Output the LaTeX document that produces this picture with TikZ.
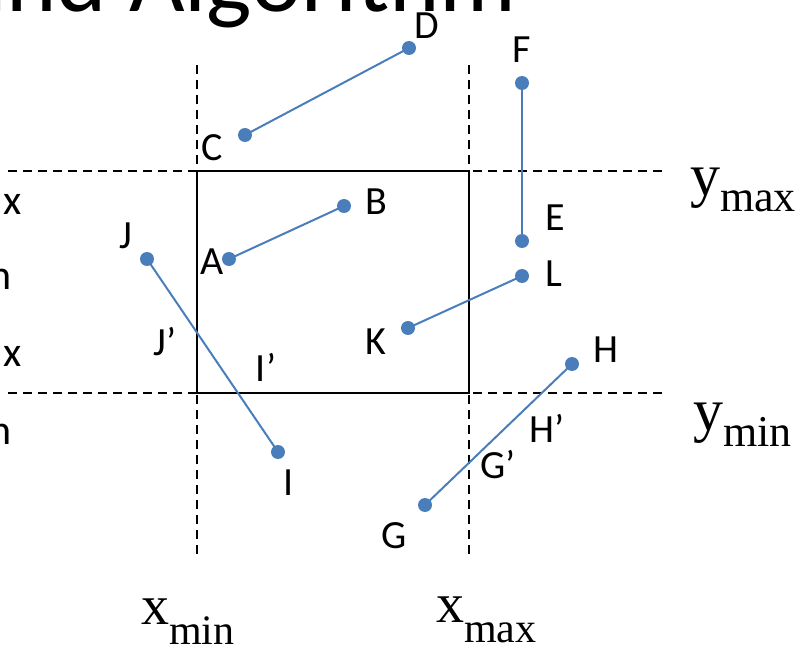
\documentclass[tikz,border=0pt]{standalone}
\usepackage{fontspec}
\setmainfont{Carlito}
\newfontfamily\tnr{Liberation Serif}
\definecolor{segblue}{HTML}{4A7EBB}
\begin{document}
\begin{tikzpicture}[x=1pt,y=-1pt,
  endpt/.style={circle, fill=segblue, inner sep=0pt, minimum size=14pt},
  seg/.style={segblue, line width=2pt},
  lbl/.style={font=\fontsize{40}{40}\selectfont, inner sep=0pt},
  frag/.style={font=\fontsize{42}{42}\selectfont, inner sep=0pt, anchor=base east},
  guide/.style={dash pattern=on 9pt off 6pt, line width=1.3pt},
  win/.style={line width=1.5pt},
  bound/.style={inner sep=0pt, anchor=base west}]
\useasboundingbox (0,0) rectangle (807,650);
\clip (0,0) rectangle (807,650);
% title fragment
\node[inner sep=0pt, anchor=base east, font=\fontsize{96}{96}\selectfont] (title) at (517,12) {Cohen-Sutherland Algorithm};
% left fragments
\node[frag] (f1) at (22,215) {x};
\node[frag] (f2) at (12,290) {n};
\node[frag] (f3) at (22,366) {x};
\node[frag] (f4) at (12,444) {n};
% guides
\coordinate (hl1) at (8,171);   \coordinate (hr1) at (665,171);
\coordinate (hl2) at (8,393);   \coordinate (hr2) at (665,393);
\coordinate (vt1) at (197,65);  \coordinate (vb1) at (197,557);
\coordinate (vt2) at (469,65);  \coordinate (vb2) at (469,557);
\draw[guide] (hl1) -- (hr1);
\draw[guide] (hl2) -- (hr2);
\draw[guide] (vt1) -- (vb1);
\draw[guide] (vt2) -- (vb2);
\coordinate (w1) at (197,171); \coordinate (w2) at (469,393);
\draw[win] (w1) rectangle (w2);
% end points
\node[endpt] (D) at (409,48) {};
\node[endpt] (C) at (245,135) {};
\node[endpt] (B) at (344,206) {};
\node[endpt] (A) at (229,259) {};
\node[endpt] (F) at (522,83) {};
\node[endpt] (E) at (522,241) {};
\node[endpt] (L) at (522,276) {};
\node[endpt] (K) at (408,328) {};
\node[endpt] (H) at (572,364) {};
\node[endpt] (G) at (425,505) {};
\node[endpt] (J) at (147,259) {};
\node[endpt] (I) at (278,452) {};
\draw[seg] (C.center) -- (D.center);
\draw[seg] (A.center) -- (B.center);
\draw[seg] (E.center) -- (F.center);
\draw[seg] (K.center) -- (L.center);
\draw[seg] (G.center) -- (H.center);
\draw[seg] (J.center) -- (I.center);
% labels
\node[lbl] (lD) at (427,26) {D};
\node[lbl] (lF) at (522,50) {F};
\node[lbl] (lC) at (212,148) {C};
\node[lbl] (lB) at (376,202) {B};
\node[lbl] (lE) at (555,218) {E};
\node[lbl] (lJ) at (126,236) {J};
\node[lbl] (lA) at (212,262) {A};
\node[lbl] (lL) at (554,274) {L};
\node[lbl] (lK) at (376,342) {K};
\node[lbl] (lJp) at (165,342) {J’};
\node[lbl] (lH) at (606,350) {H};
\node[lbl] (lIp) at (266,367) {I’};
\node[lbl] (lHp) at (547,428) {H’};
\node[lbl] (lGp) at (498,465) {G’};
\node[lbl] (lI) at (289,483) {I};
\node[lbl] (lG) at (394,536) {G};
% boundary labels
\node[bound] (ymax) at (690,196) {\tnr\fontsize{60}{60}\selectfont y\raisebox{-16pt}{\fontsize{44}{44}\selectfont max}};
\node[bound] (ymin) at (693,430) {\tnr\fontsize{60}{60}\selectfont y\raisebox{-16pt}{\fontsize{44}{44}\selectfont min}};
\node[bound] (xmin) at (141,624) {\tnr\fontsize{56}{56}\selectfont x\raisebox{-20pt}{\fontsize{42}{42}\selectfont min}};
\node[bound] (xmax) at (436,622) {\tnr\fontsize{56}{56}\selectfont x\raisebox{-20pt}{\fontsize{42}{42}\selectfont max}};
\end{tikzpicture}
\end{document}
